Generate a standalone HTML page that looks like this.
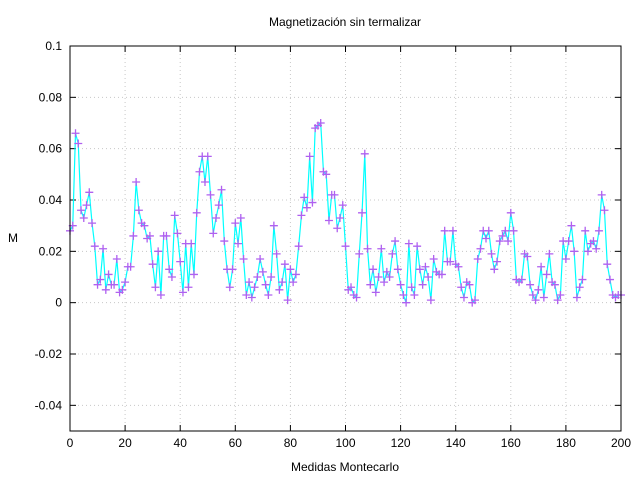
<!DOCTYPE html>
<html><head><meta charset="utf-8"><style>
body{margin:0;background:#fff;}
svg{display:block;font-family:"Liberation Sans",sans-serif;}
</style></head><body>
<svg id="chart" width="640" height="478">
<text x="345" y="26" text-anchor="middle" font-size="12">Magnetización sin termalizar</text>
<text x="345" y="471" text-anchor="middle" font-size="12">Medidas Montecarlo</text>
<text x="13" y="242" text-anchor="middle" font-size="12">M</text>
<g id="grid"></g><g id="ticks"></g><g id="series"></g>
<rect x="70" y="46" width="551" height="385" fill="none" stroke="#000" stroke-width="1"/>
</svg>
<script>
const xTicks=[0,20,40,60,80,100,120,140,160,180,200];
const yTicks=[-0.04,-0.02,0,0.02,0.04,0.06,0.08,0.1];
const yTickLabels=["-0.04","-0.02","0","0.02","0.04","0.06","0.08","0.1"];
const magnetization=[0.028,0.030,0.066,0.062,0.036,0.033,0.038,0.043,0.031,0.022,0.007,0.009,0.021,0.005,0.011,0.007,0.007,0.017,0.004,0.005,
0.008,0.014,0.014,0.026,0.047,0.036,0.031,0.030,0.025,0.026,0.015,0.006,0.020,0.003,0.026,0.026,0.013,0.010,0.034,0.027,
0.016,0.004,0.023,0.006,0.023,0.011,0.035,0.051,0.057,0.047,0.057,0.042,0.027,0.033,0.038,0.044,0.024,0.013,0.006,0.013,
0.031,0.023,0.033,0.017,0.003,0.008,0.002,0.006,0.010,0.017,0.012,0.007,0.003,0.010,0.030,0.019,0.005,0.008,0.015,0.001,
0.013,0.008,0.011,0.022,0.034,0.041,0.037,0.057,0.039,0.068,0.069,0.070,0.051,0.050,0.032,0.042,0.042,0.029,0.033,0.038,
0.022,0.005,0.006,0.003,0.002,0.019,0.035,0.058,0.021,0.007,0.013,0.004,0.010,0.021,0.008,0.012,0.010,0.019,0.024,0.013,
0.007,0.003,0.000,0.023,0.006,0.003,0.022,0.013,0.007,0.014,0.010,0.001,0.017,0.012,0.011,0.011,0.028,0.016,0.016,0.028,
0.015,0.014,0.006,0.002,0.008,0.007,0.000,0.001,0.017,0.021,0.028,0.025,0.028,0.019,0.013,0.016,0.024,0.026,0.028,0.024,
0.035,0.028,0.009,0.008,0.009,0.019,0.018,0.007,0.003,0.001,0.005,0.014,0.002,0.011,0.019,0.008,0.007,0.001,0.003,0.024,
0.017,0.024,0.030,0.020,0.002,0.006,0.009,0.028,0.020,0.023,0.024,0.021,0.028,0.042,0.036,0.015,0.009,0.003,0.002,0.003,0.003];
const NS="http://www.w3.org/2000/svg";
const L=70,R=621,T=46,B=431,xMin=0,xMax=200,yMin=-0.05,yMax=0.1;
function xs(v){return L+(v-xMin)/(xMax-xMin)*(R-L);}
function ys(v){return B-(v-yMin)/(yMax-yMin)*(B-T);}
function mk(tag,a,parent){const e=document.createElementNS(NS,tag);for(const k in a)e.setAttribute(k,a[k]);parent.appendChild(e);return e;}
const grid=document.getElementById('grid'),ticks=document.getElementById('ticks'),series=document.getElementById('series');
xTicks.forEach(t=>{const x=xs(t);
 if(t>xMin&&t<xMax){const g=mk('line',{x1:x,x2:x,y1:T,y2:B,stroke:'#c8c8c8','stroke-dasharray':'1,3'},grid);
 
 }
 mk('line',{x1:x,x2:x,y1:B,y2:B-6,stroke:'#000'},ticks);mk('line',{x1:x,x2:x,y1:T,y2:T+6,stroke:'#000'},ticks);
 const tx=mk('text',{x:x,y:B+16,'text-anchor':'middle','font-size':'12'},ticks);tx.textContent=t;
 
 });
yTicks.forEach((t,i)=>{const y=ys(t);
 const g=mk('line',{x1:L,x2:R,y1:y,y2:y,stroke:'#c8c8c8','stroke-dasharray':'1,3'},grid);
 
 
 mk('line',{x1:L,x2:L+6,y1:y,y2:y,stroke:'#000'},ticks);mk('line',{x1:R,x2:R-6,y1:y,y2:y,stroke:'#000'},ticks);
 const tx=mk('text',{x:L-8,y:y+4,'text-anchor':'end','font-size':'12'},ticks);tx.textContent=yTickLabels[i];
 
 });
const pts=magnetization.map((v,i)=>[xs(i),ys(v)]);
const pl=mk('polyline',{points:pts.map(p=>p.join(',')).join(' '),fill:'none',stroke:'#00ffff','stroke-width':'1.2'},series);


pts.forEach(p=>{const m=mk('path',{d:`M${p[0]-4},${p[1]}h8M${p[0]},${p[1]-4}v8`,stroke:'#b060f0','stroke-width':'1.3'},series);
 
 });
</script>
</body></html>
